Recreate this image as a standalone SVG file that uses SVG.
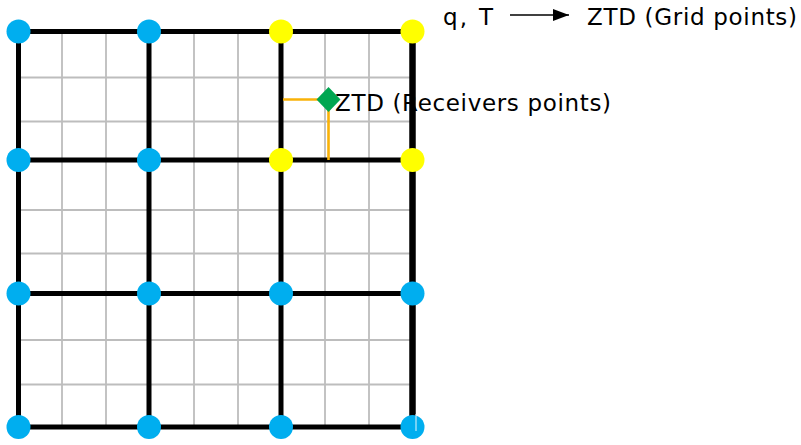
<svg xmlns="http://www.w3.org/2000/svg" width="801" height="445" viewBox="0 0 801 445">
  <style>
    .fine { stroke: #bdbdbd; stroke-width: 1.8; fill: none; }
    .thick { stroke: #000; stroke-width: 5; fill: none; stroke-linecap: square; }
    .edge { stroke: #000; stroke-width: 6.5; fill: none; }
    .blue { fill: #00AEEF; }
    .yellow { fill: #FFFF00; }
    .lbl { font-family: "DejaVu Sans", "Liberation Sans", "Noto Sans CJK KR", sans-serif; font-size: 23px; fill: #000; }
    .lead { stroke: #F9B208; stroke-width: 2.6; fill: none; }
  </style>
  <defs>
    <marker id="arrow" markerWidth="16" markerHeight="12" refX="16" refY="6" orient="auto" markerUnits="userSpaceOnUse">
      <polygon points="0,0 16,6 0,12" fill="#000"/>
    </marker>
  </defs>
  <rect width="801" height="445" fill="#fff"/>

  <g id="fine-grid">
    <line class="fine" x1="62" y1="31.5" x2="62" y2="427"/>
    <line class="fine" x1="106" y1="31.5" x2="106" y2="427"/>
    <line class="fine" x1="194" y1="31.5" x2="194" y2="427"/>
    <line class="fine" x1="238" y1="31.5" x2="238" y2="427"/>
    <line class="fine" x1="325" y1="31.5" x2="325" y2="427"/>
    <line class="fine" x1="369" y1="31.5" x2="369" y2="427"/>
    <line class="fine" x1="18.5" y1="77.5" x2="412.5" y2="77.5"/>
    <line class="fine" x1="18.5" y1="121.5" x2="412.5" y2="121.5"/>
    <line class="fine" x1="18.5" y1="210" x2="412.5" y2="210"/>
    <line class="fine" x1="18.5" y1="253.5" x2="412.5" y2="253.5"/>
    <line class="fine" x1="18.5" y1="340" x2="412.5" y2="340"/>
    <line class="fine" x1="18.5" y1="384.5" x2="412.5" y2="384.5"/>
  </g>

  <g id="labels">
    <text class="lbl" x="443" y="25" textLength="50" lengthAdjust="spacing">q, T</text>
    <text class="lbl" x="587" y="25" textLength="210" lengthAdjust="spacing">ZTD (Grid points)</text>
    <text class="lbl" x="335" y="111" textLength="276" lengthAdjust="spacing">ZTD (Receivers points)</text>
  </g>

  <g id="connectors">
    <line class="thick" x1="18.5" y1="31.5" x2="412.5" y2="31.5"/>
    <line class="thick" x1="18.5" y1="160" x2="412.5" y2="160"/>
    <line class="thick" x1="18.5" y1="293.5" x2="412.5" y2="293.5"/>
    <line class="thick" x1="18.5" y1="427" x2="412.5" y2="427"/>
    <line class="thick" x1="18.5" y1="31.5" x2="18.5" y2="427"/>
    <line class="thick" x1="149" y1="31.5" x2="149" y2="427"/>
    <line class="thick" x1="281" y1="31.5" x2="281" y2="427"/>
    <line class="edge" x1="412.5" y1="31.5" x2="412.5" y2="427"/>
    <line class="lead" x1="283" y1="99.5" x2="328.5" y2="99.5"/>
    <line class="lead" x1="328.5" y1="99.5" x2="328.5" y2="160"/>
    <line x1="510" y1="15" x2="569" y2="15" stroke="#000" stroke-width="1.6" marker-end="url(#arrow)"/>
  </g>

  <g id="n-r1c1"><circle class="blue" cx="18.5" cy="31.5" r="12"/></g>
  <g id="n-r1c2"><circle class="blue" cx="149" cy="31.5" r="12"/></g>
  <g id="n-r1c3"><circle class="yellow" cx="281" cy="31.5" r="12"/></g>
  <g id="n-r1c4"><circle class="yellow" cx="412.5" cy="31.5" r="12"/></g>
  <g id="n-r2c1"><circle class="blue" cx="18.5" cy="160" r="12"/></g>
  <g id="n-r2c2"><circle class="blue" cx="149" cy="160" r="12"/></g>
  <g id="n-r2c3"><circle class="yellow" cx="281" cy="160" r="12"/></g>
  <g id="n-r2c4"><circle class="yellow" cx="412.5" cy="160" r="12"/></g>
  <g id="n-r3c1"><circle class="blue" cx="18.5" cy="293.5" r="12"/></g>
  <g id="n-r3c2"><circle class="blue" cx="149" cy="293.5" r="12"/></g>
  <g id="n-r3c3"><circle class="blue" cx="281" cy="293.5" r="12"/></g>
  <g id="n-r3c4"><circle class="blue" cx="412.5" cy="293.5" r="12"/></g>
  <g id="n-r4c1"><circle class="blue" cx="18.5" cy="427" r="12"/></g>
  <g id="n-r4c2"><circle class="blue" cx="149" cy="427" r="12"/></g>
  <g id="n-r4c3"><circle class="blue" cx="281" cy="427" r="12"/></g>
  <g id="n-r4c4"><circle class="blue" cx="412.5" cy="427" r="12"/><line x1="416" y1="414" x2="416" y2="431" stroke="#e6f6fd" stroke-width="1"/></g>

  <g id="receiver">
    <polygon points="328.5,87 340.5,99.5 328.5,112 316.5,99.5" fill="#00A651"/>
  </g>
</svg>
